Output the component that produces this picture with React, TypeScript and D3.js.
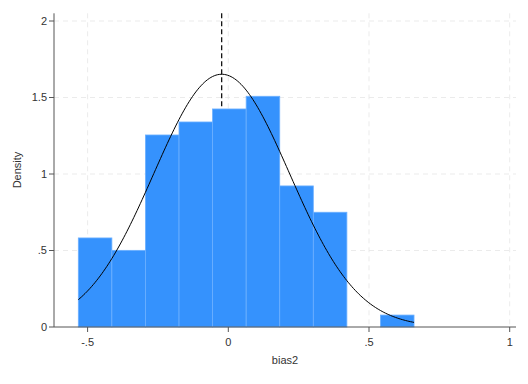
import React from "react";
import * as d3 from "d3";

const binStart = -0.533;
const binWidth = 0.1193;
const densities = [0.582, 0.501, 1.255, 1.34, 1.425, 1.508, 0.922, 0.75, 0, 0.078];
const xTicks = [-0.5, 0, 0.5, 1];
const xTickLabels = ["-.5", "0", ".5", "1"];
const yTicks = [0, 0.5, 1, 1.5, 2];
const yTickLabels = ["0", ".5", "1", "1.5", "2"];
const meanValue = -0.0235;
const sdValue = 0.2415;
const dataMin = -0.533;
const dataMax = 0.66;

export default function App() {
  const W = 528, H = 384;
  const x = d3.scaleLinear().domain([0, 1]).range([228.3, 509.7]);
  const y = d3.scaleLinear().domain([0, 2]).range([327, 21]);
  const left = 54, right = 516, top = 13.3, bottom = 327;

  const normal = d3.range(0, 201).map((i) => {
    const v = dataMin + ((dataMax - dataMin) * i) / 200;
    const z = (v - meanValue) / sdValue;
    return [v, Math.exp(-0.5 * z * z) / (sdValue * Math.sqrt(2 * Math.PI))] as [number, number];
  });
  const line = d3.line<[number, number]>().x((d) => x(d[0])).y((d) => y(d[1]));

  const font = "Liberation Sans, Arial, sans-serif";
  return (
    <svg width={W} height={H} style={{ position: "absolute", left: 0, top: 0, background: "#fff" }}>
      <rect x={0} y={0} width={W} height={H} fill="#fff" />
      {/* grid */}
      {yTicks.filter((t) => t > 0).map((t) => (
        <line key={"gy" + t} x1={left} x2={right} y1={y(t)} y2={y(t)} stroke="#e6e6e6" strokeWidth={0.8} strokeDasharray="5,4" />
      ))}
      {xTicks.map((t) => (
        <line key={"gx" + t} x1={x(t)} x2={x(t)} y1={top} y2={bottom} stroke="#e6e6e6" strokeWidth={0.8} strokeDasharray="5,4" />
      ))}
      {/* mean line */}
      <line x1={x(meanValue)} x2={x(meanValue)} y1={top} y2={bottom} stroke="#000" strokeWidth={1.2} strokeDasharray="5,3" />
      {/* bars */}
      {densities.map((d, i) =>
        d > 0 ? (
          <rect
            key={i}
            x={x(binStart + i * binWidth)}
            width={x(binStart + (i + 1) * binWidth) - x(binStart + i * binWidth)}
            y={y(d)}
            height={y(0) - y(d)}
            fill="#3592fd"
            stroke="#6cb0ff"
            strokeWidth={0.8}
          />
        ) : null
      )}
      {/* normal curve */}
      <path d={line(normal) || ""} fill="none" stroke="#000" strokeWidth={1} />
      {/* axes */}
      <line x1={left} x2={left} y1={top} y2={bottom} stroke="#555" strokeWidth={1} />
      <line x1={left} x2={right} y1={bottom} y2={bottom} stroke="#555" strokeWidth={1} />
      {yTicks.map((t, i) => (
        <g key={"yt" + t}>
          <line x1={left - 5} x2={left} y1={y(t)} y2={y(t)} stroke="#555" strokeWidth={1} />
          <text x={left - 7} y={y(t)} dy="0.35em" textAnchor="end" fontSize={11} fontFamily={font} fill="#333">
            {yTickLabels[i]}
          </text>
        </g>
      ))}
      {xTicks.map((t, i) => (
        <g key={"xt" + t}>
          <line x1={x(t)} x2={x(t)} y1={bottom} y2={bottom + 5} stroke="#555" strokeWidth={1} />
          <text x={x(t)} y={bottom + 19} textAnchor="middle" fontSize={11} fontFamily={font} fill="#333">
            {xTickLabels[i]}
          </text>
        </g>
      ))}
      <text x={285} y={364} textAnchor="middle" fontSize={11} fontFamily={font} fill="#333">bias2</text>
      <text transform={`translate(21,170) rotate(-90)`} textAnchor="middle" fontSize={11} fontFamily={font} fill="#333">Density</text>
    </svg>
  );
}
